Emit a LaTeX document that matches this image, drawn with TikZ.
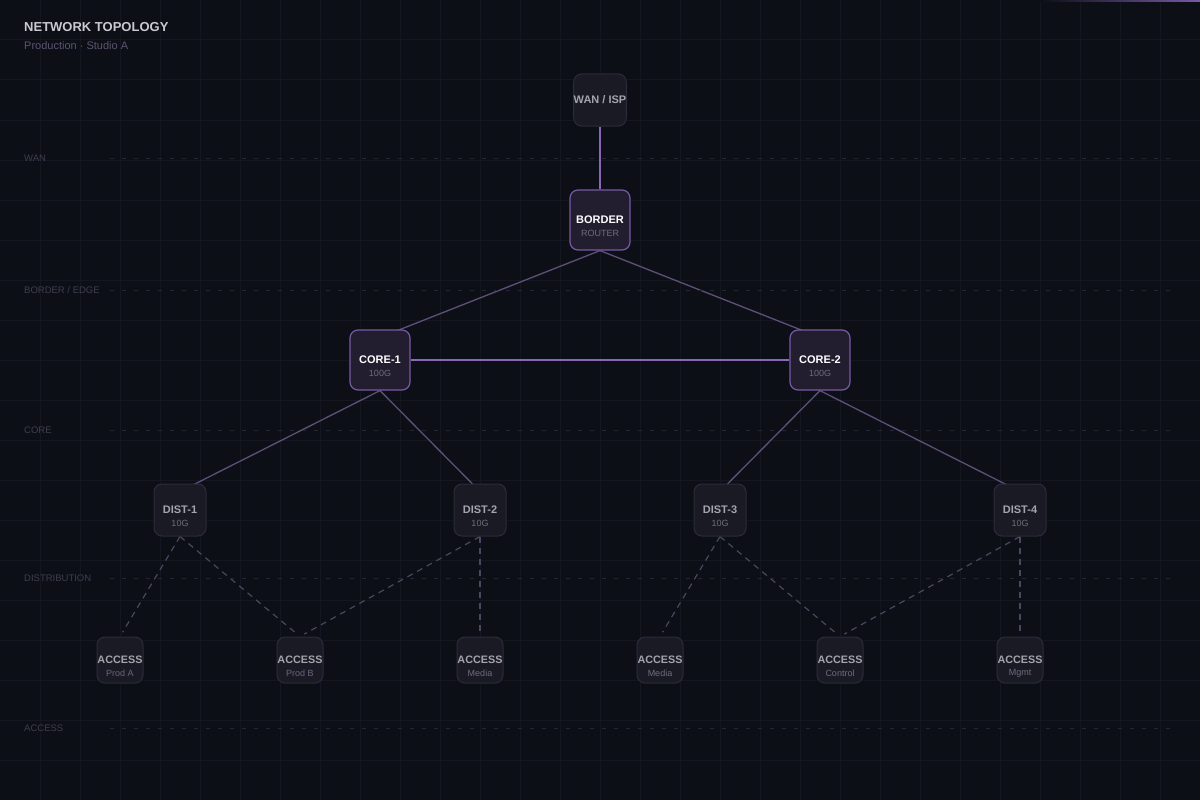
\documentclass[tikz,border=0pt]{standalone}
\usepackage{fontspec}
\setmainfont{Liberation Sans}
\usetikzlibrary{positioning}
\definecolor{Bg}{HTML}{0D0F17}
\definecolor{Grid}{HTML}{141620}
\definecolor{Tier}{HTML}{262634}
\definecolor{TierText}{HTML}{3E3D50}
\definecolor{Head}{HTML}{C9C9D1}
\definecolor{SubHead}{HTML}{5B5470}
\definecolor{BoxFill}{HTML}{1A1A24}
\definecolor{BoxLine}{HTML}{2C2B3A}
\definecolor{HubFill}{HTML}{221E30}
\definecolor{HubLine}{HTML}{7859A6}
\definecolor{Plum}{HTML}{8A67B8}
\definecolor{Mauve}{HTML}{5E5078}
\definecolor{Ash}{HTML}{4A4760}
\definecolor{Label}{HTML}{A4A4AC}
\definecolor{Faint}{HTML}{6E6C7C}
\definecolor{Lilac}{HTML}{6E6282}
\pgfdeclarelayer{back}\pgfdeclarelayer{wires}\pgfsetlayers{back,wires,main}

\begin{document}
\begin{tikzpicture}[x=1pt,y=-1pt,every node/.style={inner sep=0pt},
  tier/.style={draw=Tier,line width=1pt,dash pattern=on 4pt off 8pt},
  tiertext/.style={anchor=west,text=TierText,font=\fontsize{9.5}{11}\selectfont},
  box/.style={draw=BoxLine,fill=BoxFill,line width=1pt,rounded corners=8pt,minimum size=52pt,text=Label,font=\bfseries\fontsize{11}{13}\selectfont},
  small/.style={box,minimum size=46pt,font=\bfseries\fontsize{10.8}{12}\selectfont},
  hub/.style={box,draw=HubLine,fill=HubFill,line width=1.2pt,minimum size=60pt,text=white,font=\bfseries\fontsize{11}{13}\selectfont},
  subt/.style={text=Faint,font=\fontsize{9}{10}\selectfont},
  uplink/.style={draw=Mauve,line width=1.3pt},
  downlink/.style={draw=Ash,line width=1.2pt,dash pattern=on 6pt off 5pt,shorten >=5pt}]
\useasboundingbox (0,0) rectangle (1200,800);

\begin{pgfonlayer}{back}
\fill[Bg] (-5,-5) rectangle (1205,805);
\foreach \i in {40,80,...,1160} \draw[Grid,line width=1pt] (\i,0)--(\i,800);
\foreach \j in {40,80,...,760} \draw[Grid,line width=1pt] (0,\j)--(1200,\j);
\shade[left color=Bg,right color=HubLine] (1040,0) rectangle (1200,2);
\end{pgfonlayer}

% title
\node[anchor=west,text=Head,font=\bfseries\fontsize{13}{15}\selectfont] (title) at (24,27) {NETWORK TOPOLOGY};
\node[anchor=west,text=SubHead,font=\fontsize{11}{13}\selectfont] (subtitle) at (24,46) {Production · Studio A};

% tiers
\foreach \y/\t in {158/{WAN},290/{BORDER / EDGE},430/{CORE},578/{DISTRIBUTION},728/{ACCESS}}{
  \node[tiertext] at (24,\y) {\t};
  \draw[tier] (110,\y)--(1175,\y);
}

% devices
\node[box] (wan) at (600,100) {WAN / ISP};
\node[hub] (border) at (600,220) {BORDER};
\node[subt] (borders) at ([yshift=-13pt]border.center) {ROUTER};
\node[hub] (core1) at (380,360) {CORE-1};
\node[subt] (core1s) at ([yshift=-13pt]core1.center) {100G};
\node[hub] (core2) at (820,360) {CORE-2};
\node[subt] (core2s) at ([yshift=-13pt]core2.center) {100G};
\foreach \n/\x in {1/180,2/480,3/720,4/1020}{
  \node[box] (dist\n) at (\x,510) {DIST-\n};
  \node[subt] (dist\n s) at ([yshift=-13pt]dist\n.center) {10G};
}
\foreach \n/\x/\s/\c in {1/120/Prod A/Lilac,2/300/Prod B/Lilac,3/480/Media/Faint,4/660/Media/Faint,5/840/Control/Faint,6/1020/Mgmt/Faint}{
  \node[small] (acc\n) at (\x,660) {ACCESS};
  \node[subt,text=\c] (acc\n s) at ([yshift=-13pt]acc\n.center) {\s};
}

% links
\begin{pgfonlayer}{wires}
\draw[draw=Plum,line width=1.5pt] (wan.south)--(border.north);
\draw[uplink] (border.south)--([yshift=-8pt]core1.north);
\draw[uplink] (border.south)--([yshift=-8pt]core2.north);
\draw[draw=Plum,line width=2pt] (core1.east)--(core2.west);
\draw[uplink] (core1.south)--([yshift=-8pt]dist1.north);
\draw[uplink] (core1.south)--([yshift=-8pt]dist2.north);
\draw[uplink] (core2.south)--([yshift=-8pt]dist3.north);
\draw[uplink] (core2.south)--([yshift=-8pt]dist4.north);
\foreach \d/\a in {1/1,1/2,2/2,2/3,3/4,3/5,4/5,4/6}
  \draw[downlink] (dist\d.south)--(acc\a.north);
\end{pgfonlayer}
\end{tikzpicture}
\end{document}
